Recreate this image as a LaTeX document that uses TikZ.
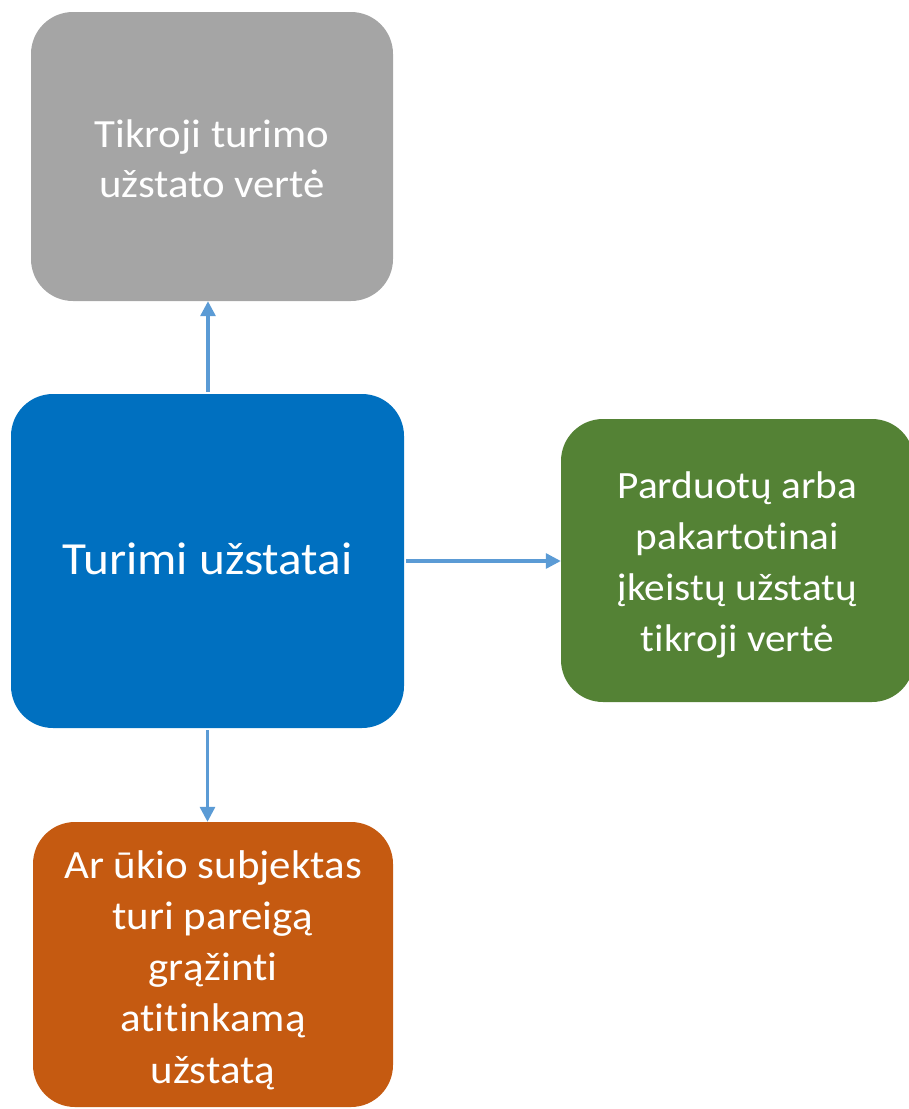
\documentclass[tikz,border=0pt]{standalone}
\usepackage{fontspec}
\setmainfont{Carlito}[Ligatures=NoCommon, FakeStretch=1.07]
\usetikzlibrary{arrows.meta, positioning}
\definecolor{ubgray}{HTML}{A5A5A5}
\definecolor{ubblue}{HTML}{0070C0}
\definecolor{ubgreen}{HTML}{548235}
\definecolor{uborange}{HTML}{C55A11}
\definecolor{ubarrow}{HTML}{5B9BD5}

\begin{document}
\begin{tikzpicture}[x=1pt, y=-1pt,
  every node/.style={font=\fontsize{40}{50}\selectfont},
  card/.style={rectangle, rounded corners=42pt, inner sep=0pt},
  cardtext/.style={align=center, text=white, inner sep=0pt},
  link/.style={draw=ubarrow, line width=3.2pt, -{Triangle[length=15pt, width=15pt]}},
]
\useasboundingbox (0,0) rectangle (909,1109);
% boxes
\node[card, fill=ubgray, minimum width=362pt, minimum height=289pt] (value) at (212, 156.5) {};
\node[card, fill=ubblue, minimum width=393pt, minimum height=334pt] (held) at (207.5, 561) {};
\node[card, fill=ubgreen, minimum width=353pt, minimum height=283pt] (sold) at (737.5, 560.5) {};
\node[card, fill=uborange, minimum width=360pt, minimum height=285pt] (duty) at (213, 964.5) {};
% texts
\node[cardtext] (valuetext) at ([yshift=-2pt]value.center) {Tikroji turimo\\užstato vertė};
\node[cardtext, font=\fontsize{46}{51}\selectfont] (heldtext) at ([yshift=2pt]held.center) {Turimi užstatai};
\node[cardtext, font=\fontsize{38.6}{51}\selectfont] (soldtext) at ([yshift=-4pt]sold.center) {Parduotų arba\\pakartotinai\\įkeistų užstatų\\tikroji vertė};
\node[cardtext, font=\fontsize{40.1}{51.25}\selectfont] (dutytext) at ([yshift=-5.5pt]duty.center) {Ar ūkio subjektas\\turi pareigą\\grąžinti\\atitinkamą\\užstatą};
% arrows
\draw[link] ([xshift=0.5pt]held.north) ++(0,-2) coordinate (u0) -- (u0 |- value.south);
\draw[link] (held.east) ++(2,0) coordinate (r0) -- (r0 -| sold.west);
\draw[link] (held.south) ++(0,2) coordinate (d0) -- (d0 |- duty.north);
\end{tikzpicture}
\end{document}
